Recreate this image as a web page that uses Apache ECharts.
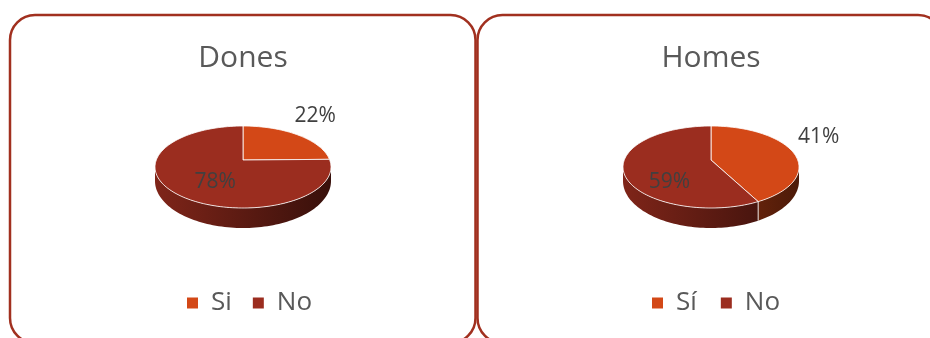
<!DOCTYPE html>
<html>
<head>
<meta charset="utf-8">
<script src="https://cdn.jsdelivr.net/npm/echarts@6/dist/echarts.min.js"></script>
<style>
  html, body { margin: 0; padding: 0; background: #ffffff; }
  #chart { width: 930px; height: 338px; }
</style>
</head>
<body>
<div id="chart"></div>
<script>
// Survey answers split by gender (percent)
const titles = ['Dones', 'Homes'];
const categoriesDones = ['Si', 'No'];
const categoriesHomes = ['Sí', 'No'];
const valuesDones = [22, 78];
const valuesHomes = [41, 59];

const sliceColors = ['#D34817', '#9B2D1F'];
const FONT = '"Open Sans", "Liberation Sans", sans-serif';
const TEXT_GREY = '#595959';
const LABEL_GREY = '#404040';

// Pie disc geometry (tilted 3D look)
const PIE_CX = [243, 711];
const CY = 167, RX = 88, RY = 41;
const APEX_LIFT = 7;      // apex sits a little above the ellipse centre (perspective)
const DEPTH_SIDE = 14;    // wall height at the left/right extremes
const DEPTH_FRONT = 20;   // wall height at the front

function shade(hex, f) {
  const n = parseInt(hex.slice(1), 16);
  const r = Math.round(((n >> 16) & 255) * f);
  const g = Math.round(((n >> 8) & 255) * f);
  const b = Math.round((n & 255) * f);
  return 'rgb(' + r + ',' + g + ',' + b + ')';
}

function ellPt(cx, cy, rx, ry, deg) {
  const a = deg * Math.PI / 180;
  return [cx + rx * Math.sin(a), cy - ry * Math.cos(a)];
}

function arcPts(cx, cy, rx, ry, a0, a1) {
  const steps = Math.max(2, Math.ceil((a1 - a0) / 2));
  const pts = [];
  for (let i = 0; i <= steps; i++) {
    pts.push(ellPt(cx, cy, rx, ry, a0 + (a1 - a0) * i / steps));
  }
  return pts;
}

function sum(arr) { return arr.reduce((s, v) => s + v, 0); }

function sliceSeries(name, pieIdx, values, k) {
  const total = sum(values);
  const before = sum(values.slice(0, k));
  const color = sliceColors[k];
  return {
    type: 'custom',
    name: name,
    coordinateSystem: 'none',
    silent: true,
    itemStyle: { color: color },
    data: [values[k]],
    renderItem: function (params, api) {
      const v = api.value(0);
      const a0 = before / total * 360;
      const a1 = (before + v) / total * 360;
      const cx = PIE_CX[pieIdx];
      const children = [];
      const botCy = CY + DEPTH_SIDE;
      const botRy = RY + (DEPTH_FRONT - DEPTH_SIDE);

      // visible front wall of the slice
      const s0 = Math.max(a0, 90), s1 = Math.min(a1, 270);
      if (s1 > s0) {
        const top = arcPts(cx, CY, RX, RY, s0, s1);
        const bot = arcPts(cx, botCy, RX, botRy, s0, s1).reverse();
        children.push({
          type: 'polygon', z2: 1,
          shape: { points: top.concat(bot) },
          style: {
            fill: {
              type: 'linear', global: true,
              x: cx - RX, y: 0, x2: cx + RX, y2: 0,
              colorStops: [
                { offset: 0, color: shade(color, 0.82) },
                { offset: 1, color: shade(color, 0.36) }
              ]
            }
          }
        });
      }
      // seam between slices on the wall
      if (a0 > 90 && a0 < 270) {
        const p = ellPt(cx, CY, RX, RY, a0);
        const q = ellPt(cx, botCy, RX, botRy, a0);
        children.push({
          type: 'line', z2: 2,
          shape: { x1: p[0], y1: p[1], x2: q[0], y2: q[1] },
          style: { stroke: 'rgba(255,255,255,0.85)', lineWidth: 1 }
        });
      }
      // top face
      const apex = [cx, CY - APEX_LIFT];
      children.push({
        type: 'polygon', z2: 5,
        shape: { points: [apex].concat(arcPts(cx, CY, RX, RY, a0, a1)) },
        style: { fill: color, stroke: 'rgba(255,255,255,0.8)', lineWidth: 1, lineJoin: 'round' }
      });
      // value label
      const mid = (a0 + a1) / 2 * Math.PI / 180;
      let lx, ly;
      if (v < 50) {
        lx = cx + 1.25 * RX * Math.sin(mid) + 2;
        ly = CY - APEX_LIFT - RY * Math.cos(mid) - 12;
      } else {
        lx = cx + 0.48 * RX * Math.sin(mid) - 1;
        ly = CY + 15;
      }
      children.push({
        type: 'text', z2: 10, x: lx, y: ly,
        style: {
          text: v + '%', fill: LABEL_GREY, fontSize: 21, fontFamily: FONT,
          align: 'center', verticalAlign: 'middle'
        }
      });
      return { type: 'group', children: children };
    }
  };
}

const series = [];
categoriesDones.forEach((c, k) => series.push(sliceSeries(c, 0, valuesDones, k)));
categoriesHomes.forEach((c, k) => series.push(sliceSeries(c, 1, valuesHomes, k)));

const legendBase = {
  icon: 'rect', itemWidth: 11, itemHeight: 11, itemGap: 21,
  top: 290, padding: 0, selectedMode: false,
  textStyle: { fontSize: 26, color: TEXT_GREY, fontFamily: FONT, padding: [0, 0, 0, 8] }
};

const chart = echarts.init(document.getElementById('chart'), null, { renderer: 'canvas' });
chart.setOption({
  animation: false,
  backgroundColor: '#ffffff',
  legend: [
    Object.assign({}, legendBase, { data: categoriesDones, left: 187 }),
    Object.assign({}, legendBase, { data: categoriesHomes, left: 652, itemGap: 24 })
  ],
  graphic: [
    { type: 'rect', z: -1, shape: { x: 10, y: 15, width: 465.5, height: 328, r: 25 },
      style: { fill: 'none', stroke: '#A1301F', lineWidth: 2.5 } },
    { type: 'rect', z: -1, shape: { x: 477.5, y: 15, width: 465.5, height: 328, r: 25 },
      style: { fill: 'none', stroke: '#A1301F', lineWidth: 2.5 } },
    { type: 'text', x: PIE_CX[0], y: 58,
      style: { text: titles[0], fill: TEXT_GREY, fontSize: 30, fontFamily: FONT, align: 'center', verticalAlign: 'middle' } },
    { type: 'text', x: PIE_CX[1], y: 58,
      style: { text: titles[1], fill: TEXT_GREY, fontSize: 30, fontFamily: FONT, align: 'center', verticalAlign: 'middle' } }
  ],
  series: series
});
</script>
</body>
</html>
